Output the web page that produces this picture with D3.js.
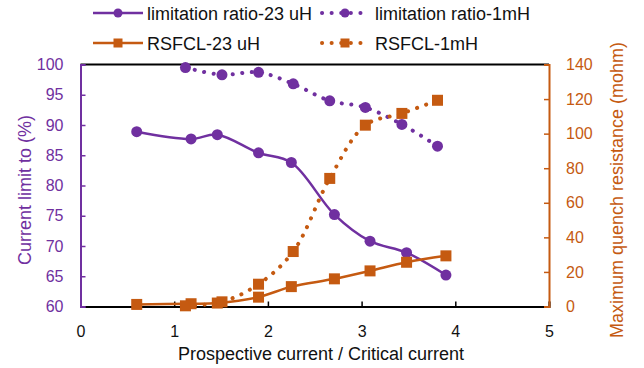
<!DOCTYPE html>
<html>
<head>
<meta charset="utf-8">
<script src="https://cdn.jsdelivr.net/npm/d3@7"></script>
<style>
  body { margin: 0; background: #fff; }
  text { font-family: "Liberation Sans", Arial, sans-serif; }
</style>
</head>
<body>
<svg width="644" height="368"></svg>
<script>
// values
var x23 = [0.60, 1.18, 1.46, 1.90, 2.25, 2.71, 3.09, 3.48, 3.90];
var ratio23 = [88.9, 87.7, 88.4, 85.4, 83.8, 75.2, 70.8, 68.9, 65.2];
var res23 = [1.2, 1.6, 2.0, 5.4, 11.5, 16.0, 20.6, 25.6, 29.3];

var x1m = [1.12, 1.51, 1.90, 2.27, 2.66, 3.04, 3.43, 3.81];
var ratio1m = [99.5, 98.3, 98.7, 96.8, 94.0, 92.9, 90.1, 86.5];
var res1m = [0.4, 2.7, 12.9, 31.8, 74.1, 104.9, 111.7, 119.3];

var xTicks = [0, 1, 2, 3, 4, 5];
var leftTicks = [60, 65, 70, 75, 80, 85, 90, 95, 100];
var rightTicks = [0, 20, 40, 60, 80, 100, 120, 140];

var purple = "#7030a0", orange = "#c55a11";
var pLeft = 80.5, pRight = 549, pTop = 64.5, pBottom = 306.5;

var svg = d3.select("svg");

var x = d3.scaleLinear().domain([0, 5]).range([pLeft, pRight]);
var yL = d3.scaleLinear().domain([60, 100]).range([pBottom, pTop]);
var yR = d3.scaleLinear().domain([0, 140]).range([pBottom, pTop]);

function translate(a, b) { return "translate(" + [a, b] + ")"; }

// frame top
svg.append("line").attr("x1", pLeft).attr("x2", pRight).attr("y1", pTop).attr("y2", pTop)
  .attr("stroke", "#000").attr("stroke-width", 2);

// x axis (ticks inward)
var gx = svg.append("g").attr("transform", translate(0, pBottom))
  .call(d3.axisBottom(x).tickValues(xTicks).tickSize(-5).tickPadding(19).tickFormat(d3.format("d")));
gx.select(".domain").attr("stroke", "#000").attr("stroke-width", 2);
gx.selectAll(".tick line").attr("stroke", "#000").attr("stroke-width", 1.5);
gx.selectAll(".tick text").attr("font-size", 16).attr("fill", "#111").attr("font-family", "Liberation Sans, Arial, sans-serif");

// left axis
var gl = svg.append("g").attr("transform", translate(pLeft, 0))
  .call(d3.axisLeft(yL).tickValues(leftTicks).tickSize(-5).tickPadding(17));
gl.select(".domain").attr("stroke", purple).attr("stroke-width", 2);
gl.selectAll(".tick line").attr("stroke", purple).attr("stroke-width", 1.5);
gl.selectAll(".tick text").attr("font-size", 16).attr("fill", purple).attr("font-family", "Liberation Sans, Arial, sans-serif");

// right axis
var gr = svg.append("g").attr("transform", translate(pRight, 0))
  .call(d3.axisRight(yR).tickValues(rightTicks).tickSize(-5).tickPadding(17));
gr.select(".domain").attr("stroke", orange).attr("stroke-width", 2);
gr.selectAll(".tick line").attr("stroke", orange).attr("stroke-width", 1.5);
gr.selectAll(".tick text").attr("font-size", 16).attr("fill", orange).attr("font-family", "Liberation Sans, Arial, sans-serif");

// axis titles
svg.append("text").attr("x", 321).attr("y", 360).attr("text-anchor", "middle")
  .attr("font-size", 18).attr("fill", "#111").text("Prospective current / Critical current");
svg.append("text").attr("transform", translate(31, 190) + " rotate(-90)").attr("text-anchor", "middle")
  .attr("font-size", 18).attr("fill", purple).text("Current limit to (%)");
svg.append("text").attr("transform", translate(623, 190) + " rotate(-90)").attr("text-anchor", "middle")
  .attr("font-size", 18).attr("fill", orange).text("Maximum quench resistance (mohm)");

var series = [
  {xs: x23, ys: ratio23, y: yL, color: purple, dotted: false, marker: "circle"},
  {xs: x1m, ys: ratio1m, y: yL, color: purple, dotted: true, marker: "circle"},
  {xs: x23, ys: res23, y: yR, color: orange, dotted: false, marker: "square"},
  {xs: x1m, ys: res1m, y: yR, color: orange, dotted: true, marker: "square"}
];

function styleLine(sel, s) {
  sel.attr("fill", "none").attr("stroke", s.color);
  if (s.dotted) sel.attr("stroke-width", 4).attr("stroke-linecap", "round").attr("stroke-dasharray", "0.1 9.5");
  else sel.attr("stroke-width", 2.5);
}

function drawMarker(g, s, cx, cy, size) {
  if (s.marker === "circle") {
    g.append("circle").attr("cx", cx).attr("cy", cy).attr("r", size / 2).attr("fill", s.color);
  } else {
    g.append("rect").attr("x", cx - size / 2).attr("y", cy - size / 2)
      .attr("width", size).attr("height", size).attr("fill", s.color);
  }
}

series.forEach(function(s) {
  var pts = s.xs.map(function(v, i) { return [x(v), s.y(s.ys[i])]; });
  var line = d3.line().curve(d3.curveCatmullRom.alpha(0.5));
  var g = svg.append("g");
  styleLine(g.append("path").attr("d", line(pts)), s);
  pts.forEach(function(p) { drawMarker(g, s, p[0], p[1], 11); });
});

// legend
var legend = [
  {label: "limitation ratio-23 uH", s: series[0], lx: 93, ly: 13},
  {label: "limitation ratio-1mH", s: series[1], lx: 322, ly: 13},
  {label: "RSFCL-23 uH", s: series[2], lx: 93, ly: 43},
  {label: "RSFCL-1mH", s: series[3], lx: 322, ly: 43}
];
legend.forEach(function(d) {
  var g = svg.append("g");
  var x1 = d.lx, x2 = d.s.dotted ? d.lx + 46 : d.lx + 50;
  styleLine(g.append("line").attr("x1", x1).attr("x2", x2).attr("y1", d.ly).attr("y2", d.ly), d.s);
  drawMarker(g, d.s, (x1 + x2) / 2, d.ly, 9);
  g.append("text").attr("x", d.s.dotted ? 375 : 147).attr("y", d.ly + 6.5)
    .attr("font-size", 18).attr("fill", "#111").text(d.label);
});
</script>
</body>
</html>
